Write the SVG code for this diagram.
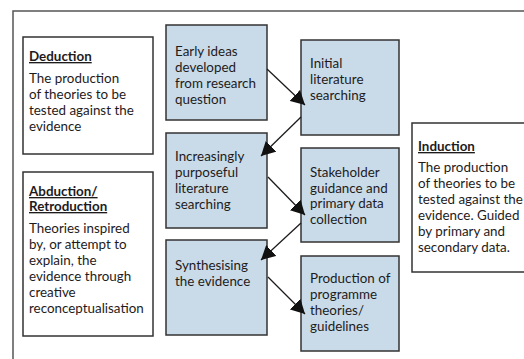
<svg xmlns="http://www.w3.org/2000/svg" width="524" height="359" viewBox="0 0 524 359">
<style>
.frame{fill:#fff;stroke:#555;stroke-width:1.5}
.wbox{fill:#fff;stroke:#333;stroke-width:1.5}
.bbox{fill:#c9dbe8;stroke:#333;stroke-width:1.5}
text{font-family:Lato,"Open Sans","Liberation Sans",sans-serif;font-size:13.4px;fill:#1e1b1c}
.h{font-weight:bold;text-decoration:underline}
.conn{stroke:#1e1b1c;stroke-width:1.3;fill:none;marker-end:url(#ah)}
</style>
<defs>
<marker id="ah" markerUnits="userSpaceOnUse" markerWidth="15" markerHeight="15" refX="14" refY="7.5" orient="auto" viewBox="0 0 15 15">
<path d="M0,0 L14,7.5 L0,15 z" fill="#111"/>
</marker>
</defs>
<rect class="frame" x="13" y="11" width="530" height="370"/>
<g id="deduction">
<rect class="wbox" x="23" y="37" width="130" height="117"/>
<text x="29" y="61" class="h">Deduction</text>
<text x="29" y="83">The production</text>
<text x="29" y="99">of theories to be</text>
<text x="29" y="115">tested against the</text>
<text x="29" y="131">evidence</text>
</g>
<g id="abduction">
<rect class="wbox" x="23" y="172" width="130" height="164"/>
<text x="29" y="196" class="h">Abduction/</text>
<text x="29" y="211" class="h">Retroduction</text>
<text x="29" y="233">Theories inspired</text>
<text x="29" y="249">by, or attempt to</text>
<text x="29" y="265">explain, the</text>
<text x="29" y="281">evidence through</text>
<text x="29" y="297">creative</text>
<text x="29" y="313">reconceptualisation</text>
</g>
<g id="early">
<rect class="bbox" x="166" y="25" width="101" height="95"/>
<text x="175" y="56">Early ideas</text>
<text x="175" y="72">developed</text>
<text x="175" y="88">from research</text>
<text x="175" y="104">question</text>
</g>
<g id="increasing">
<rect class="bbox" x="166" y="133" width="101" height="95"/>
<text x="175" y="161">Increasingly</text>
<text x="175" y="177">purposeful</text>
<text x="175" y="193">literature</text>
<text x="175" y="209">searching</text>
</g>
<g id="synth">
<rect class="bbox" x="166" y="240" width="101" height="95"/>
<text x="175" y="270">Synthesising</text>
<text x="175" y="286">the evidence</text>
</g>
<g id="initial">
<rect class="bbox" x="301" y="40" width="98" height="95"/>
<text x="310" y="68">Initial</text>
<text x="310" y="84">literature</text>
<text x="310" y="100">searching</text>
</g>
<g id="stakeholder">
<rect class="bbox" x="301" y="148" width="98" height="94"/>
<text x="310" y="177">Stakeholder</text>
<text x="310" y="192.5">guidance and</text>
<text x="310" y="208">primary data</text>
<text x="310" y="223.5">collection</text>
</g>
<g id="production">
<rect class="bbox" x="301" y="256" width="98" height="95"/>
<text x="310" y="283">Production of</text>
<text x="310" y="299">programme</text>
<text x="310" y="315">theories/</text>
<text x="310" y="331">guidelines</text>
</g>
<g id="induction">
<rect class="wbox" x="412" y="123" width="130" height="149"/>
<text x="418" y="151" class="h">Induction</text>
<text x="418" y="172">The production</text>
<text x="418" y="188">of theories to be</text>
<text x="418" y="204">tested against the</text>
<text x="418" y="220">evidence. Guided</text>
<text x="418" y="236">by primary and</text>
<text x="418" y="252">secondary data.</text>
</g>
<g id="connectors">
<line class="conn" x1="267" y1="69" x2="305" y2="105"/>
<line class="conn" x1="301" y1="117" x2="261" y2="156"/>
<line class="conn" x1="268" y1="177" x2="305" y2="215"/>
<line class="conn" x1="301" y1="223" x2="261" y2="260"/>
<line class="conn" x1="268" y1="277" x2="305" y2="314"/>
</g>
</svg>
